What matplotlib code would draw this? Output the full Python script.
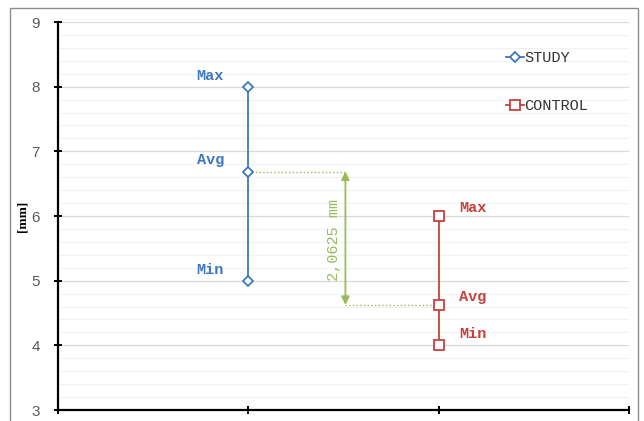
import matplotlib

matplotlib.use("Agg")
import matplotlib.pyplot as plt
from matplotlib.patches import Rectangle
from matplotlib.ticker import MultipleLocator

BLUE = "#3f78c0"
RED = "#c9403d"
GREEN = "#9bbb59"
TICK = "#595959"
MONO = "Liberation Mono"

groups = ["STUDY", "CONTROL"]
group_x = [1, 2]
study_vals = [5.0, 6.6875, 8.0]      # min, avg, max
control_vals = [4.0, 4.625, 6.0]
point_names = ["Min", "Avg", "Max"]
diff_label = "2,0625 mm"
arrow_x = 1.51

fig = plt.figure(figsize=(6.44, 4.21), dpi=100)
fig.patches.append(Rectangle((10 / 644, -0.05), 628 / 644, 1 - 8 / 421 + 0.05,
                             transform=fig.transFigure, fill=False,
                             edgecolor="#8c8c8c", lw=1.0))
ax = fig.add_axes([58 / 644, 1 - 410 / 421, 571 / 644, 388 / 421])

# grid
ax.set_ylim(3, 9)
ax.set_xlim(0, 3)
ax.yaxis.set_major_locator(MultipleLocator(1))
ax.yaxis.set_minor_locator(MultipleLocator(0.2))
ax.xaxis.set_major_locator(MultipleLocator(1))
ax.grid(axis="y", which="major", color="#d9d9d9", lw=0.9)
ax.grid(axis="y", which="minor", color="#f2f2f2", lw=0.8)
ax.set_axisbelow(True)

for s in ["top", "right"]:
    ax.spines[s].set_visible(False)
for s in ["left", "bottom"]:
    ax.spines[s].set_linewidth(1.6)
ax.tick_params(axis="both", which="major", direction="inout", length=6, width=1.4)
ax.tick_params(axis="y", which="minor", length=0)
ax.tick_params(axis="y", labelsize=11, labelcolor=TICK, pad=10)
ax.set_xticklabels([])
for lab in ax.get_yticklabels():
    lab.set_family("Liberation Sans")

fig.text(23 / 644, 1 - 216 / 421, "[mm]", rotation=90, fontsize=9.5,
         fontweight="bold", family="Liberation Serif", ha="center", va="center")

# series
ax.plot([group_x[0]] * 3, study_vals, color=BLUE, lw=1.3, marker="D", ms=5,
        mfc="white", mec=BLUE, mew=1.3, label=groups[0], zorder=3)
ax.plot([group_x[1]] * 3, control_vals, color=RED, lw=1.3, marker="s", ms=6.5,
        mfc="white", mec=RED, mew=1.3, label=groups[1], zorder=3)

# point labels
study_offsets = [0.17, 0.18, 0.17]
for name, v, dy in zip(point_names, study_vals, study_offsets):
    ax.text(group_x[0] - 0.2, v + dy, name, color=BLUE, family=MONO, fontsize=11,
            fontweight="bold", ha="center", va="center")
control_offsets = [0.17, 0.13, 0.13]
for name, v, dy in zip(point_names, control_vals, control_offsets):
    ax.text(group_x[1] + 0.18, v + dy, name, color=RED, family=MONO, fontsize=11,
            fontweight="bold", ha="center", va="center")

# difference annotation
ax.plot([group_x[0], arrow_x], [study_vals[1]] * 2, color=GREEN, lw=1, ls=":")
ax.plot([arrow_x, group_x[1]], [control_vals[1]] * 2, color=GREEN, lw=1, ls=":")
ax.annotate("", xy=(arrow_x, control_vals[1]), xytext=(arrow_x, study_vals[1]),
            arrowprops=dict(arrowstyle="<|-|>", color=GREEN, lw=1.3,
                            mutation_scale=12, shrinkA=0, shrinkB=0))
ax.text(arrow_x - 0.06, (study_vals[1] + control_vals[1]) / 2 - 0.02, diff_label,
        rotation=90, color=GREEN, family=MONO, fontsize=11, ha="center", va="center")

leg = ax.legend(loc="upper left", bbox_to_anchor=(0.76, 0.96), frameon=False,
                handlelength=1.2, handletextpad=0.0, labelspacing=2.2,
                prop={"family": MONO, "size": 11})
for t in leg.get_texts():
    t.set_color("#333333")

fig.savefig("out.png", dpi=100)
